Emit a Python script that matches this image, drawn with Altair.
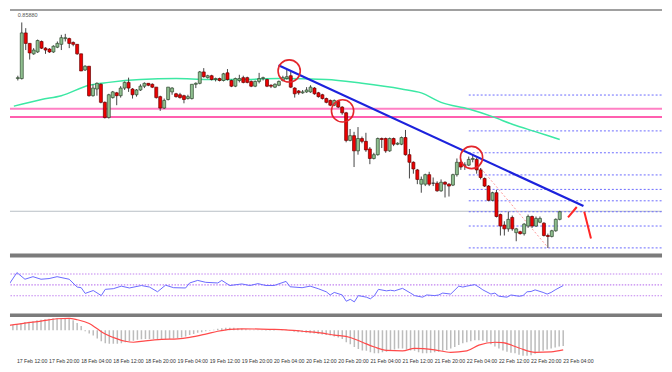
import altair as alt
import pandas as pd

# ---------------- data ----------------
opens = [
    0.8530, 0.8530, 0.8578, 0.8567, 0.8556, 0.8558, 0.8569, 0.8562, 0.8561, 0.8558,
    0.8563, 0.8566, 0.8572, 0.8572, 0.8568, 0.8566, 0.8556, 0.8539, 0.8543, 0.8512,
    0.8519, 0.8524, 0.8505, 0.8489, 0.8510, 0.8515, 0.8512, 0.8520, 0.8526, 0.8519,
    0.8513, 0.8518, 0.8522, 0.8525, 0.8524, 0.8521, 0.8511, 0.8499, 0.8508, 0.8516,
    0.8514, 0.8513, 0.8512, 0.8509, 0.8509, 0.8524, 0.8525, 0.8537, 0.8531, 0.8533,
    0.8529, 0.8530, 0.8528, 0.8536, 0.8528, 0.8522, 0.8528, 0.8531, 0.8531, 0.8527,
    0.8522, 0.8527, 0.8530, 0.8529, 0.8523, 0.8521, 0.8523, 0.8528, 0.8530, 0.8533,
    0.8520, 0.8517, 0.8515, 0.8516, 0.8516, 0.8520, 0.8515, 0.8513, 0.8509, 0.8507,
    0.8502, 0.8506, 0.8500, 0.8494, 0.8465, 0.8470, 0.8454, 0.8467, 0.8464, 0.8456,
    0.8446, 0.8450, 0.8467, 0.8467, 0.8454, 0.8467, 0.8461, 0.8461, 0.8468, 0.8450,
    0.8442, 0.8434, 0.8419, 0.8419, 0.8429, 0.8420, 0.8420, 0.8412, 0.8421, 0.8419,
    0.8418, 0.8429, 0.8442, 0.8439, 0.8439, 0.8445, 0.8445, 0.8434, 0.8425, 0.8417,
    0.8402, 0.8410, 0.8387, 0.8376, 0.8372, 0.8384, 0.8368, 0.8369, 0.8367, 0.8375,
    0.8385, 0.8375, 0.8379, 0.8378, 0.8365, 0.8364, 0.8370, 0.8382,
]
closes = [
    0.8531, 0.8578, 0.8567, 0.8557, 0.8560, 0.8570, 0.8562, 0.8560, 0.8558, 0.8564,
    0.8567, 0.8573, 0.8573, 0.8567, 0.8566, 0.8556, 0.8538, 0.8543, 0.8512, 0.8520,
    0.8525, 0.8505, 0.8489, 0.8513, 0.8516, 0.8512, 0.8520, 0.8526, 0.8520, 0.8513,
    0.8518, 0.8522, 0.8525, 0.8523, 0.8521, 0.8510, 0.8499, 0.8507, 0.8521, 0.8520,
    0.8511, 0.8510, 0.8508, 0.8511, 0.8524, 0.8525, 0.8537, 0.8532, 0.8533, 0.8529,
    0.8530, 0.8528, 0.8535, 0.8529, 0.8522, 0.8530, 0.8530, 0.8526, 0.8526, 0.8522,
    0.8527, 0.8530, 0.8531, 0.8522, 0.8522, 0.8524, 0.8527, 0.8531, 0.8532, 0.8521,
    0.8514, 0.8515, 0.8516, 0.8518, 0.8521, 0.8514, 0.8511, 0.8509, 0.8505, 0.8502,
    0.8507, 0.8500, 0.8494, 0.8465, 0.8470, 0.8454, 0.8467, 0.8464, 0.8455, 0.8446,
    0.8450, 0.8467, 0.8466, 0.8454, 0.8467, 0.8461, 0.8462, 0.8468, 0.8450, 0.8442,
    0.8435, 0.8424, 0.8424, 0.8429, 0.8419, 0.8420, 0.8412, 0.8421, 0.8419, 0.8417,
    0.8429, 0.8442, 0.8437, 0.8439, 0.8445, 0.8446, 0.8434, 0.8426, 0.8417, 0.8402,
    0.8410, 0.8385, 0.8375, 0.8372, 0.8382, 0.8372, 0.8372, 0.8367, 0.8377, 0.8385,
    0.8375, 0.8383, 0.8383, 0.8365, 0.8364, 0.8370, 0.8382, 0.8390,
]
highs = [
    0.8533, 0.8589, 0.8583, 0.8567, 0.8562, 0.8571, 0.8570, 0.8563, 0.8562, 0.8565,
    0.8569, 0.8576, 0.8577, 0.8573, 0.8569, 0.8566, 0.8556, 0.8544, 0.8543, 0.8524,
    0.8526, 0.8525, 0.8506, 0.8514, 0.8517, 0.8516, 0.8522, 0.8527, 0.8531, 0.8520,
    0.8519, 0.8524, 0.8526, 0.8525, 0.8525, 0.8521, 0.8512, 0.8509, 0.8521, 0.8521,
    0.8515, 0.8515, 0.8513, 0.8513, 0.8524, 0.8526, 0.8538, 0.8541, 0.8534, 0.8534,
    0.8531, 0.8531, 0.8536, 0.8540, 0.8529, 0.8531, 0.8534, 0.8533, 0.8532, 0.8528,
    0.8528, 0.8536, 0.8532, 0.8530, 0.8524, 0.8525, 0.8528, 0.8533, 0.8539, 0.8537,
    0.8521, 0.8518, 0.8518, 0.8521, 0.8523, 0.8521, 0.8516, 0.8514, 0.8510, 0.8508,
    0.8508, 0.8507, 0.8501, 0.8495, 0.8477, 0.8474, 0.8479, 0.8469, 0.8473, 0.8458,
    0.8452, 0.8468, 0.8468, 0.8468, 0.8468, 0.8468, 0.8463, 0.8469, 0.8476, 0.8456,
    0.8443, 0.8435, 0.8427, 0.8430, 0.8432, 0.8426, 0.8422, 0.8424, 0.8422, 0.8420,
    0.8430, 0.8446, 0.8444, 0.8442, 0.8448, 0.8450, 0.8447, 0.8436, 0.8426, 0.8418,
    0.8411, 0.8413, 0.8388, 0.8380, 0.8390, 0.8386, 0.8373, 0.8370, 0.8378, 0.8387,
    0.8386, 0.8385, 0.8385, 0.8379, 0.8367, 0.8371, 0.8383, 0.8391,
]
lows = [
    0.8528, 0.8529, 0.8560, 0.8550, 0.8555, 0.8557, 0.8561, 0.8556, 0.8557, 0.8557,
    0.8562, 0.8560, 0.8569, 0.8562, 0.8564, 0.8555, 0.8538, 0.8538, 0.8511, 0.8511,
    0.8512, 0.8504, 0.8488, 0.8488, 0.8509, 0.8502, 0.8510, 0.8518, 0.8516, 0.8509,
    0.8511, 0.8517, 0.8520, 0.8522, 0.8520, 0.8509, 0.8496, 0.8498, 0.8507, 0.8513,
    0.8510, 0.8509, 0.8504, 0.8508, 0.8508, 0.8520, 0.8524, 0.8531, 0.8530, 0.8528,
    0.8527, 0.8527, 0.8527, 0.8528, 0.8521, 0.8521, 0.8526, 0.8525, 0.8525, 0.8521,
    0.8521, 0.8525, 0.8528, 0.8521, 0.8520, 0.8520, 0.8522, 0.8527, 0.8529, 0.8520,
    0.8510, 0.8513, 0.8514, 0.8515, 0.8515, 0.8513, 0.8510, 0.8508, 0.8504, 0.8501,
    0.8501, 0.8499, 0.8492, 0.8463, 0.8464, 0.8437, 0.8450, 0.8462, 0.8453, 0.8440,
    0.8445, 0.8449, 0.8457, 0.8452, 0.8453, 0.8459, 0.8460, 0.8460, 0.8449, 0.8425,
    0.8430, 0.8419, 0.8410, 0.8417, 0.8417, 0.8417, 0.8411, 0.8411, 0.8405, 0.8406,
    0.8417, 0.8427, 0.8434, 0.8434, 0.8438, 0.8442, 0.8430, 0.8424, 0.8416, 0.8401,
    0.8401, 0.8384, 0.8365, 0.8365, 0.8369, 0.8370, 0.8359, 0.8366, 0.8365, 0.8373,
    0.8373, 0.8374, 0.8378, 0.8364, 0.8352, 0.8363, 0.8369, 0.8381,
]

# moving average (green)
ma_idx = [-1, 6, 11, 18, 23, 31, 40, 48, 56, 66, 78, 87, 97, 102, 107, 114, 120, 125, 131, 137]
ma_val = [0.8501, 0.8508, 0.8512, 0.8523, 0.8526, 0.8529, 0.8530, 0.8529, 0.8529, 0.8530,
          0.8529, 0.8525, 0.8519, 0.8515, 0.8505, 0.8498, 0.8490, 0.8482, 0.8474, 0.8466]

# horizontal levels
pink_upper = [0.84983]
pink_lower = [0.84897]
bid_level = [0.83905]
fib_start = 114
fib_levels = [0.85127, 0.8475, 0.8452, 0.84287, 0.84135, 0.84015, 0.8390, 0.8375, 0.8352]

# drawn objects
trend_idx = [65.9, 143.0]
trend_val = [0.8544, 0.8396]
circle_idx = [68.6, 82.1, 114.7]
circle_val = [0.8538, 0.8496, 0.8447]
arrow_seg = ["a", "a", "b", "b"]
arrow_idx = [139.1, 141.3, 143.2, 144.9]
arrow_val = [0.8384, 0.8395, 0.8390, 0.8362]
proj_idx = [116.4, 134.1]
proj_val = [0.8439, 0.8352]

# RSI
rsi_idx = [-1, 1, 3, 5, 7, 9, 11, 14, 16, 17, 18, 20, 22, 23, 25, 27, 29, 32, 34, 36,
           38, 40, 43, 44, 46, 48, 51, 52, 54, 57, 59, 61, 63, 65, 68, 69, 72, 74, 76, 78,
           79, 80, 82, 83, 84, 85, 86, 88, 89, 90, 91, 93, 94, 95, 97, 99, 100, 102, 103, 105,
           106, 107, 109, 111, 112, 113, 115, 116, 117, 119, 120, 121, 123, 124, 126, 127, 128, 129, 130, 132,
           133, 134, 135, 137]
rsi_val = [50.5, 72.6, 60.4, 65.1, 60.4, 61.6, 65.1, 60.4, 46.0, 44.8,
           34.3, 39.6, 30.3, 41.8, 43.0, 47.7, 44.3, 48.8, 46.0, 37.3,
           49.5, 44.8, 44.3, 53.5, 58.2, 54.7, 53.5, 58.2, 48.8, 51.7,
           48.8, 52.3, 48.8, 48.8, 56.4, 46.5, 44.8, 47.7, 43.0, 37.3,
           31.4, 36.1, 31.4, 19.9, 23.4, 18.7, 30.3, 27.4, 24.4, 30.3,
           41.8, 39.0, 40.1, 39.0, 43.6, 34.9, 30.3, 27.4, 31.4, 30.3,
           31.4, 34.9, 33.1, 47.7, 46.0, 47.7, 50.5, 46.0, 40.8, 33.1,
           34.9, 29.1, 27.4, 31.4, 29.1, 30.3, 37.3, 37.8, 40.8, 36.1,
           33.1, 36.1, 40.8, 48.8]
rsi_levels = [70, 50, 30]

# MACD (x 1e-4)
macd_hist = [
    1.1, 1.3, 1.5, 1.7, 1.8, 1.9, 2.1, 2.2, 2.3, 2.4,
    2.5, 2.5, 2.5, 2.5, 2.4, 2.1, 1.5, 0.9, -0.2, -0.7,
    -1.1, -1.7, -2.3, -2.7, -2.8, -2.8, -2.8, -2.7, -2.5, -2.3,
    -2.2, -2.0, -1.9, -1.8, -1.8, -1.8, -1.8, -1.8, -1.8, -1.8,
    -1.7, -1.6, -1.5, -1.3, -1.0, -0.8, -0.5, -0.4, -0.2, -0.1,
    0.1, 0.3, 0.4, 0.5, 0.5, 0.5, 0.4, 0.3, 0.2, 0.1,
    0.1, 0.1, 0.1, -0.1, -0.1, -0.1, 0.0, 0.05, 0.1, -0.1,
    -0.3, -0.4, -0.4, -0.5, -0.6, -0.7, -0.8, -0.9, -1.0, -1.1,
    -1.3, -1.5, -1.8, -2.5, -2.9, -3.5, -3.9, -4.2, -4.3, -4.6,
    -4.8, -4.8, -4.6, -4.5, -4.2, -4.0, -3.8, -3.8, -4.0, -4.2,
    -4.3, -4.6, -4.8, -4.8, -4.7, -4.6, -4.5, -4.3, -4.1, -3.8,
    -3.5, -3.1, -2.7, -2.5, -2.3, -2.1, -2.1, -2.2, -2.5, -2.9,
    -3.4, -3.8, -4.2, -4.5, -4.7, -4.8, -5.1, -5.3, -5.3, -5.2,
    -4.9, -4.5, -4.3, -4.0, -3.8, -3.6, -3.4, -3.3,
]
sig_idx = [-1, 3, 7, 11, 14, 16, 19, 21, 23, 26, 28, 30, 33, 37, 41, 44, 48, 51, 54, 57,
           64, 68, 72, 76, 80, 84, 87, 90, 93, 97, 100, 105, 109, 113, 116, 120, 122, 126, 130, 134, 137]
sig_val = [1.0, 1.5, 1.9, 2.4, 2.5, 2.2, 1.4, 0.3, -0.8, -1.8,
           -2.3, -2.5, -2.2, -1.9, -1.8, -1.5, -0.8, -0.2, 0.2, 0.3,
           0.2, 0.1, -0.2, -0.5, -1.0, -1.5, -2.5, -3.5, -4.2, -4.3,
           -3.8, -4.1, -4.6, -4.3, -3.1, -2.5, -2.6, -3.7, -4.6, -4.5, -4.1]

# time axis
time_idx = [1, 9, 17, 25, 33, 41, 49, 57, 65, 73, 81, 89, 97, 105, 113, 121, 129, 137]
time_lbl = ["17 Feb 12:00", "17 Feb 20:00", "18 Feb 04:00", "18 Feb 12:00",
            "18 Feb 20:00", "19 Feb 04:00", "19 Feb 12:00", "19 Feb 20:00", "20 Feb 04:00",
            "20 Feb 12:00", "20 Feb 20:00", "21 Feb 04:00", "21 Feb 12:00", "21 Feb 20:00",
            "22 Feb 04:00", "22 Feb 12:00", "22 Feb 20:00", "23 Feb 04:00"]
top_label = "0.85880"

# ---------------- chart ----------------
W = 656
H_MAIN, H_RSI, H_MACD = 245, 58, 53
FONT = "Liberation Sans"

X_DOM = [-0.725, 161.6]
Y_DOM = [0.8346, 0.8602]
R_DOM = [-2.2, 103.9]
M_DOM = [-7.86, 3.14]


def xs():
    return alt.Scale(domain=X_DOM, nice=False, zero=False)


def sc(dom):
    return alt.Scale(domain=dom, nice=False, zero=False)


def X(field="i"):
    return alt.X(f"{field}:Q", scale=xs(), axis=None)


def Y(field, dom):
    return alt.Y(f"{field}:Q", scale=sc(dom), axis=None)


cdf = pd.DataFrame({"i": list(range(len(opens))), "o": opens, "c": closes, "h": highs, "l": lows})

wicks = alt.Chart(cdf).mark_rule(strokeWidth=1, color="#454545", clip=True).encode(
    x=X(), y=Y("l", Y_DOM), y2="h:Q")

body_up = alt.Chart(cdf).transform_filter("datum.c > datum.o").mark_bar(
    size=3, fill="#8fbf8f", stroke="#2f4a2f", strokeWidth=0.7, clip=True).encode(
    x=X(), y=Y("o", Y_DOM), y2="c:Q")
body_dn = alt.Chart(cdf).transform_filter("datum.c < datum.o").mark_bar(
    size=3, fill="#ee0000", stroke="#6a0000", strokeWidth=0.7, clip=True).encode(
    x=X(), y=Y("o", Y_DOM), y2="c:Q")
body_flat = alt.Chart(cdf).transform_filter("datum.c == datum.o").mark_bar(
    size=3, fill="#303030", stroke="#303030", strokeWidth=0.8, clip=True).encode(
    x=X(), y=Y("o", Y_DOM), y2="c:Q")

ma = alt.Chart(pd.DataFrame({"i": ma_idx, "v": ma_val})).mark_line(
    color="#3ce8a4", strokeWidth=1.5, interpolate="monotone", clip=True).encode(
    x=X(), y=Y("v", Y_DOM))

pink1 = alt.Chart(pd.DataFrame({"v": pink_upper})).mark_rule(color="#ff80c4", strokeWidth=2).encode(
    y=Y("v", Y_DOM))
pink2 = alt.Chart(pd.DataFrame({"v": pink_lower})).mark_rule(color="#ff2a95", strokeWidth=1.5).encode(
    y=Y("v", Y_DOM))
bid = alt.Chart(pd.DataFrame({"v": bid_level})).mark_rule(color="#b7bec6", strokeWidth=1).encode(
    y=Y("v", Y_DOM))
fib = alt.Chart(pd.DataFrame({"v": fib_levels})).transform_calculate(
    x0=str(fib_start), x1="200").mark_rule(
    color="#6b6bff", strokeWidth=1, strokeDash=[2, 2], clip=True).encode(
    x=X("x0"), x2="x1:Q", y=Y("v", Y_DOM))

trend = alt.Chart(pd.DataFrame({"i": trend_idx, "v": trend_val})).mark_line(
    color="#1c22dc", strokeWidth=2.2, clip=True).encode(
    x=X(), y=Y("v", Y_DOM))
proj = alt.Chart(pd.DataFrame({"i": proj_idx, "v": proj_val})).mark_line(
    color="#ff9a9a", strokeWidth=1, strokeDash=[2, 2], clip=True).encode(
    x=X(), y=Y("v", Y_DOM))
circles = alt.Chart(pd.DataFrame({"i": circle_idx, "v": circle_val})).mark_point(
    shape="circle", filled=False, color="#e3262c", strokeWidth=1.6, size=500, opacity=1).encode(
    x=X(), y=Y("v", Y_DOM))
arrows = alt.Chart(pd.DataFrame({"i": arrow_idx, "v": arrow_val, "s": arrow_seg})).mark_line(
    color="#ff2626", strokeWidth=2, clip=True).encode(
    x=X(), y=Y("v", Y_DOM), detail="s:N")

top_border = alt.Chart(pd.DataFrame({"v": [Y_DOM[1]]})).mark_rule(color="#808080", strokeWidth=1.5).encode(
    y=Y("v", Y_DOM))
top_text = alt.Chart(pd.DataFrame({"t": [top_label], "i": [0.0], "v": [0.8597]})).mark_text(
    align="left", baseline="middle", fontSize=5.5, font=FONT, color="#555555").encode(
    x=X(), y=Y("v", Y_DOM), text="t:N")

main = alt.layer(
    pink1, pink2, bid, fib, ma, proj, wicks, body_up, body_dn, body_flat,
    trend, circles, arrows, top_border, top_text,
).properties(width=W, height=H_MAIN)

# RSI panel
rsi_sep = alt.Chart(pd.DataFrame({"v": [R_DOM[1]]})).mark_rule(color="#7b7b7b", strokeWidth=4).encode(
    y=Y("v", R_DOM))
rsi_lv = alt.Chart(pd.DataFrame({"v": rsi_levels})).mark_rule(
    color="#c283f0", strokeWidth=1.2, strokeDash=[1.5, 1.5]).encode(
    y=Y("v", R_DOM))
rsi_line = alt.Chart(pd.DataFrame({"i": rsi_idx, "v": rsi_val})).mark_line(
    color="#6a6aff", strokeWidth=1, clip=True).encode(
    x=X(), y=Y("v", R_DOM))
rsi = alt.layer(rsi_lv, rsi_line, rsi_sep).properties(width=W, height=H_RSI)

# MACD panel
macd_sep = alt.Chart(pd.DataFrame({"v": [M_DOM[1]]})).mark_rule(color="#7b7b7b", strokeWidth=3.5).encode(
    y=Y("v", M_DOM))
hist = alt.Chart(pd.DataFrame({"i": list(range(len(macd_hist))), "h": macd_hist})).transform_calculate(
    z="0").mark_rule(color="#bcbcbc", strokeWidth=1.5, clip=True).encode(
    x=X(), y=Y("h", M_DOM), y2="z:Q")
sig = alt.Chart(pd.DataFrame({"i": sig_idx, "v": sig_val})).mark_line(
    color="#ff4a4a", strokeWidth=1.2, interpolate="monotone", clip=True).encode(
    x=X(), y=Y("v", M_DOM))
labels = alt.Chart(pd.DataFrame({"i": time_idx, "t": time_lbl})).transform_calculate(
    ly="-6.45").mark_text(
    align="left", baseline="middle", fontSize=5.2, font=FONT, color="#333333").encode(
    x=X(), y=Y("ly", M_DOM), text="t:N")
macd = alt.layer(hist, sig, macd_sep, labels).properties(width=W, height=H_MACD)

chart = alt.vconcat(main, rsi, macd, spacing=0).properties(
    padding=0, background="white"
).configure_view(stroke=None)

chart.save("out.html", embed_options={"renderer": "svg", "actions": False})
